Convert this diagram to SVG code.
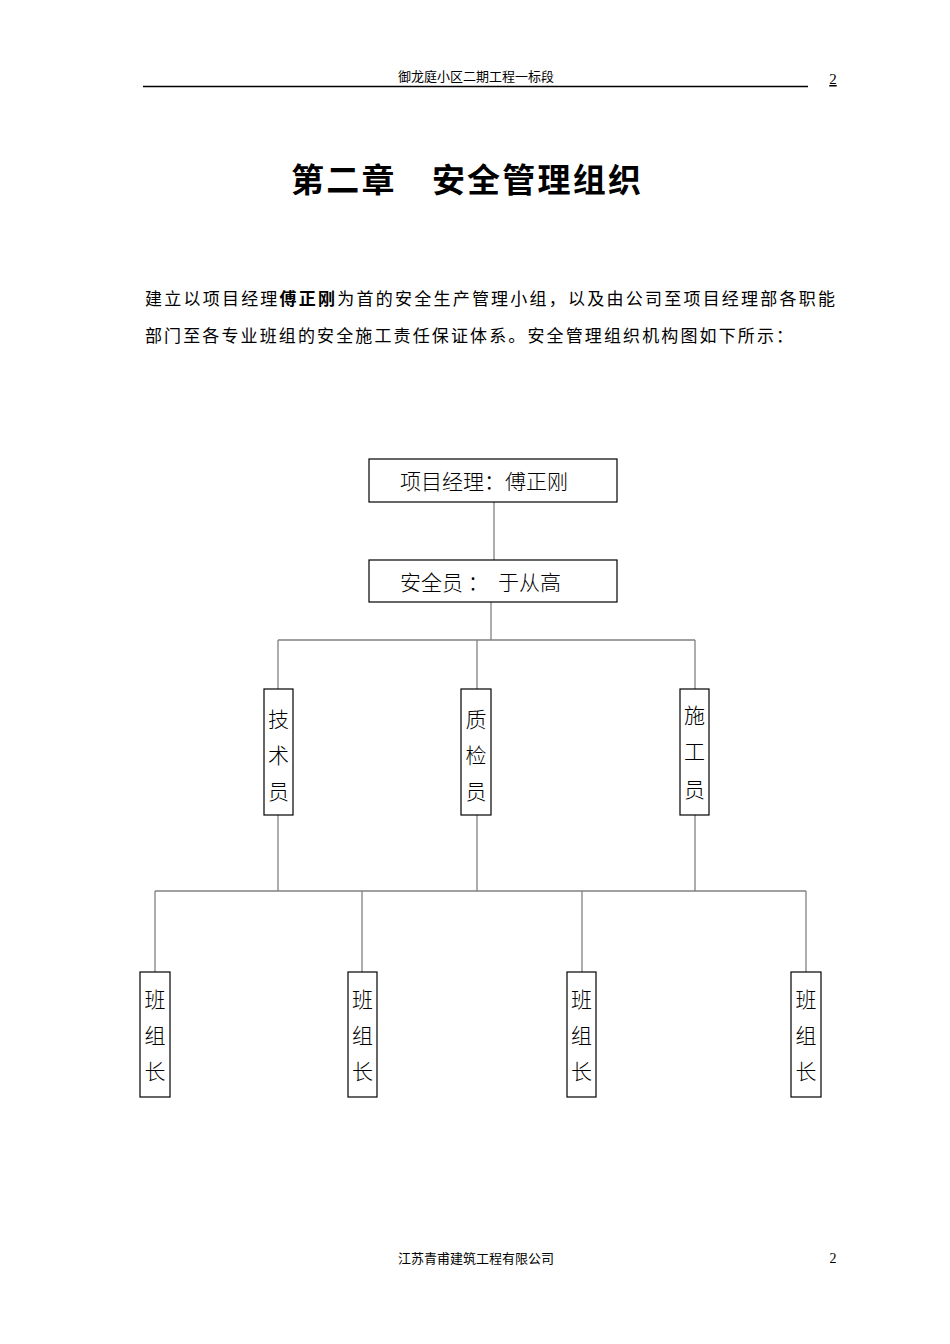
<svg xmlns="http://www.w3.org/2000/svg" width="950" height="1344" viewBox="0 0 950 1344">
<style>
.t{font-family:"Liberation Serif","Noto Sans CJK SC",serif;fill:#000}
.k{font-family:"Noto Sans CJK SC",sans-serif;fill:#000;font-size:21px;font-weight:300}
.b{fill:#fff;stroke:#000;stroke-width:1.2}
.c line{stroke:#808080;stroke-width:1.3}
</style>
<rect width="950" height="1344" fill="#fff"/>
<text class="t" x="476" y="81" font-size="13" text-anchor="middle">御龙庭小区二期工程一标段</text>
<text class="t" x="833" y="84" font-size="15" text-anchor="middle" text-decoration="underline">2</text>
<line x1="143" y1="86.5" x2="808" y2="86.5" stroke="#000" stroke-width="1.5"/>
<text class="t" x="291" y="192" font-size="33" font-weight="bold" textLength="350" lengthAdjust="spacing">第二章　安全管理组织</text>
<text class="t" x="145" y="305" font-size="17" textLength="690" lengthAdjust="spacing">建立以项目经理<tspan font-weight="bold">傅正刚</tspan>为首的安全生产管理小组，以及由公司至项目经理部各职能</text>
<text class="t" x="145" y="342" font-size="17" textLength="648" lengthAdjust="spacing">部门至各专业班组的安全施工责任保证体系。安全管理组织机构图如下所示：</text>
<g class="c">
<line x1="494" y1="502" x2="494" y2="560"/>
<line x1="491" y1="602" x2="491" y2="640"/>
<line x1="278" y1="640" x2="695" y2="640"/>
<line x1="278" y1="640" x2="278" y2="689"/>
<line x1="477" y1="640" x2="477" y2="689"/>
<line x1="695" y1="640" x2="695" y2="689"/>
<line x1="278" y1="815" x2="278" y2="891"/>
<line x1="477" y1="815" x2="477" y2="891"/>
<line x1="695" y1="815" x2="695" y2="891"/>
<line x1="155" y1="891" x2="806" y2="891"/>
<line x1="155" y1="891" x2="155" y2="972"/>
<line x1="362" y1="891" x2="362" y2="972"/>
<line x1="582" y1="891" x2="582" y2="972"/>
<line x1="806" y1="891" x2="806" y2="972"/>
</g>
<g id="pm"><rect class="b" x="369" y="459" width="248" height="43"/><text class="k" x="400" y="489">项目经理：傅正刚</text></g>
<g id="safety"><rect class="b" x="369" y="560" width="248" height="42"/><text class="k" x="400" y="590" xml:space="preserve">安全员 ：  于从高</text></g>
<g id="tech"><rect class="b" x="264" y="689" width="29" height="126"/><text class="k" text-anchor="middle"><tspan x="278.5" y="727">技</tspan><tspan x="278.5" y="763">术</tspan><tspan x="278.5" y="799">员</tspan></text></g>
<g id="qc"><rect class="b" x="461" y="689" width="30" height="126"/><text class="k" text-anchor="middle"><tspan x="476" y="727">质</tspan><tspan x="476" y="763">检</tspan><tspan x="476" y="799">员</tspan></text></g>
<g id="con"><rect class="b" x="680" y="689" width="29" height="126"/><text class="k" text-anchor="middle"><tspan x="694.5" y="723">施</tspan><tspan x="694.5" y="759">工</tspan><tspan x="694.5" y="797">员</tspan></text></g>
<g id="l1"><rect class="b" x="140" y="972" width="30" height="125"/><text class="k" text-anchor="middle"><tspan x="155" y="1007">班</tspan><tspan x="155" y="1043">组</tspan><tspan x="155" y="1079">长</tspan></text></g>
<g id="l2"><rect class="b" x="348" y="972" width="29" height="125"/><text class="k" text-anchor="middle"><tspan x="362.5" y="1007">班</tspan><tspan x="362.5" y="1043">组</tspan><tspan x="362.5" y="1079">长</tspan></text></g>
<g id="l3"><rect class="b" x="567" y="972" width="29" height="125"/><text class="k" text-anchor="middle"><tspan x="581.5" y="1007">班</tspan><tspan x="581.5" y="1043">组</tspan><tspan x="581.5" y="1079">长</tspan></text></g>
<g id="l4"><rect class="b" x="791" y="972" width="30" height="125"/><text class="k" text-anchor="middle"><tspan x="806" y="1007">班</tspan><tspan x="806" y="1043">组</tspan><tspan x="806" y="1079">长</tspan></text></g>
<text class="t" x="476" y="1263" font-size="13" text-anchor="middle">江苏青甫建筑工程有限公司</text>
<text class="t" x="833" y="1263" font-size="14" text-anchor="middle">2</text>
</svg>
